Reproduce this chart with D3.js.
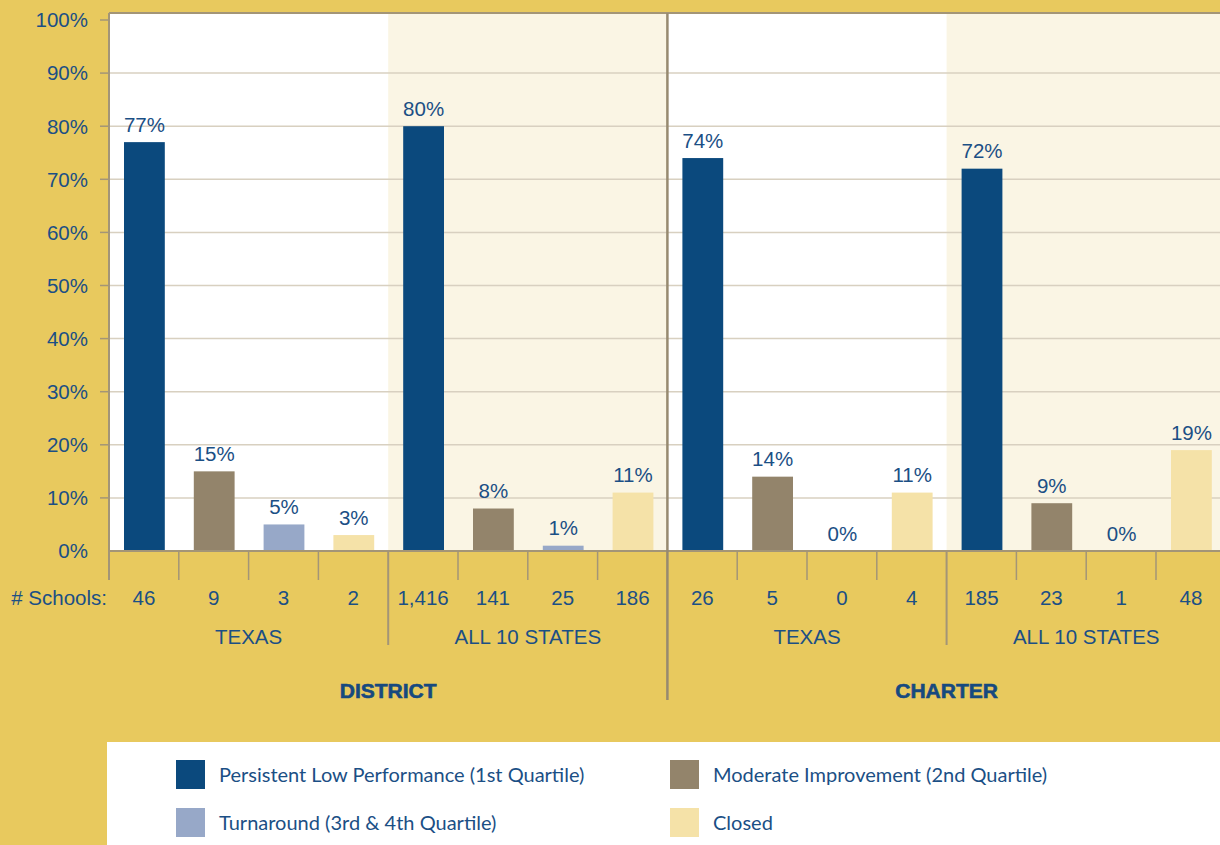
<!DOCTYPE html>
<html><head><meta charset="utf-8">
<script src="https://cdn.jsdelivr.net/npm/d3@7"></script>
<style>
html,body{margin:0;padding:0;background:#E8C95E;}
svg{display:block;}
</style></head>
<body>
<svg id="chart" width="1220" height="845"></svg>
<script>
// ---- Data ----
const sectors = ["DISTRICT", "CHARTER"];
const regions = ["TEXAS", "ALL 10 STATES"];
const seriesNames = ["Persistent Low Performance (1st Quartile)", "Moderate Improvement (2nd Quartile)", "Turnaround (3rd & 4th Quartile)", "Closed"];
const seriesColors = ["#0B497D", "#93846B", "#97A8C8", "#F5E2A8"];
// percentages by panel: District-Texas, District-All, Charter-Texas, Charter-All
const pctDistrictTexas = [77, 15, 5, 3];
const pctDistrictAll = [80, 8, 1, 11];
const pctCharterTexas = [74, 14, 0, 11];
const pctCharterAll = [72, 9, 0, 19];
const schoolsDistrictTexas = ["46", "9", "3", "2"];
const schoolsDistrictAll = ["1,416", "141", "25", "186"];
const schoolsCharterTexas = ["26", "5", "0", "4"];
const schoolsCharterAll = ["185", "23", "1", "48"];
const yTicks = [0, 10, 20, 30, 40, 50, 60, 70, 80, 90, 100];

const panels = [
  {sector: sectors[0], region: regions[0], pct: pctDistrictTexas, n: schoolsDistrictTexas},
  {sector: sectors[0], region: regions[1], pct: pctDistrictAll, n: schoolsDistrictAll},
  {sector: sectors[1], region: regions[0], pct: pctCharterTexas, n: schoolsCharterTexas},
  {sector: sectors[1], region: regions[1], pct: pctCharterAll, n: schoolsCharterAll}
];
const bars = [];
panels.forEach((p, pi) => p.pct.forEach((v, si) => bars.push({key: pi + "-" + si, pi, si, v, n: p.n[si]})));

// ---- Layout ----
const svg = d3.select("#chart");
const W = 1220, H = 845;
const x0 = 109, band = 69.8;
const plotTop = 13, plotBottom = 551;
const textBlue = "#1B4F85", lineCol = "#A39577", gridCol = "#D8D0C0";
const font = "'Liberation Sans', Arial, Helvetica, sans-serif";

const x = d3.scaleBand().domain(bars.map(d => d.key)).range([x0, x0 + band * bars.length]).paddingInner(0).paddingOuter(0);
const y = d3.scaleLinear().domain([0, 100]).range([plotBottom, 20]);
const panelX = i => x0 + i * band * 4;

svg.append("rect").attr("width", W).attr("height", H).attr("fill", "#E8C95E");

// plot background
svg.append("rect").attr("x", x0).attr("y", plotTop).attr("width", W - x0).attr("height", plotBottom - plotTop).attr("fill", "#FFFFFF");
panels.forEach((p, i) => {
  if (p.region === regions[1]) {
    svg.append("rect").attr("x", panelX(i)).attr("y", plotTop).attr("width", band * 4).attr("height", plotBottom - plotTop).attr("fill", "#FAF5E4");
  }
});

// gridlines and ticks
const yAxis = svg.append("g");
yTicks.forEach(t => {
  if (t > 0 && t < 100) {
    yAxis.append("line").attr("x1", x0).attr("x2", W).attr("y1", y(t)).attr("y2", y(t)).attr("stroke", gridCol).attr("stroke-width", 1.5);
  }
  if (t > 0) {
    yAxis.append("line").attr("x1", 100).attr("x2", x0).attr("y1", y(t)).attr("y2", y(t)).attr("stroke", lineCol).attr("stroke-width", 1.5);
  }
  yAxis.append("text").attr("x", 88).attr("y", y(t)).attr("dy", "0.36em").attr("text-anchor", "end")
    .attr("font-family", font).attr("font-size", 20.5).attr("fill", textBlue).text(t + "%");
});

// bars
svg.append("g").selectAll("rect").data(bars).join("rect")
  .attr("x", d => x(d.key) + 15).attr("width", x.bandwidth() - 29)
  .attr("y", d => y(d.v)).attr("height", d => y(0) - y(d.v))
  .attr("fill", d => seriesColors[d.si]);

// value labels
svg.append("g").selectAll("text").data(bars).join("text")
  .attr("x", d => x(d.key) + x.bandwidth() / 2 + 0.5).attr("y", d => y(d.v) - 10.5)
  .attr("text-anchor", "middle").attr("font-family", font).attr("font-size", 20.5).attr("fill", textBlue)
  .text(d => d.v + "%");

// frame
svg.append("line").attr("x1", x0).attr("x2", x0).attr("y1", plotTop).attr("y2", 580).attr("stroke", lineCol).attr("stroke-width", 2);
svg.append("line").attr("x1", x0).attr("x2", W).attr("y1", plotTop).attr("y2", plotTop).attr("stroke", lineCol).attr("stroke-width", 2);
svg.append("line").attr("x1", x0).attr("x2", W).attr("y1", plotBottom).attr("y2", plotBottom).attr("stroke", lineCol).attr("stroke-width", 2);

// separators below axis
bars.forEach(d => {
  if (d.si > 0) {
    svg.append("line").attr("x1", x(d.key)).attr("x2", x(d.key)).attr("y1", plotBottom).attr("y2", 580).attr("stroke", lineCol).attr("stroke-width", 1.5);
  }
});
[1, 3].forEach(i => {
  svg.append("line").attr("x1", panelX(i)).attr("x2", panelX(i)).attr("y1", plotBottom).attr("y2", 645).attr("stroke", lineCol).attr("stroke-width", 2);
});
svg.append("line").attr("x1", panelX(2)).attr("x2", panelX(2)).attr("y1", plotTop).attr("y2", 700).attr("stroke", "#978A70").attr("stroke-width", 2.5);

// school counts
svg.append("text").attr("x", 107).attr("y", 598).attr("dy", "0.36em").attr("text-anchor", "end")
  .attr("font-family", font).attr("font-size", 20.5).attr("fill", textBlue).text("# Schools:");
svg.append("g").selectAll("text").data(bars).join("text")
  .attr("x", d => x(d.key) + x.bandwidth() / 2).attr("y", 598).attr("dy", "0.36em")
  .attr("text-anchor", "middle").attr("font-family", font).attr("font-size", 20.5).attr("fill", textBlue)
  .text(d => d.n);

// region labels
panels.forEach((p, i) => {
  svg.append("text").attr("x", panelX(i) + band * 2).attr("y", 637).attr("dy", "0.36em")
    .attr("text-anchor", "middle").attr("font-family", font).attr("font-size", 20.5).attr("fill", textBlue).text(p.region);
});
// sector labels
sectors.forEach((s, i) => {
  svg.append("text").attr("x", panelX(i * 2) + band * 4).attr("y", 690).attr("dy", "0.36em")
    .attr("text-anchor", "middle").attr("font-family", font).attr("font-size", 21).attr("font-weight", "bold")
    .attr("stroke", "#17497F").attr("stroke-width", 0.6)
    .attr("fill", "#17497F").text(s);
});

// legend
const lg = svg.append("g");
lg.append("rect").attr("x", 107).attr("y", 742).attr("width", W - 107).attr("height", H - 742).attr("fill", "#FFFFFF");
const legendPos = [[176, 760], [670, 760], [176, 808], [670, 808]];
const legendOrder = [0, 1, 2, 3];
legendOrder.forEach((si, k) => {
  const [lx, ly] = legendPos[k];
  lg.append("rect").attr("x", lx).attr("y", ly).attr("width", 29).attr("height", 29).attr("fill", seriesColors[si]);
  lg.append("text").attr("x", lx + 43).attr("y", ly + 15).attr("dy", "0.36em")
    .attr("font-family", "Lato, 'Open Sans', sans-serif").attr("font-size", 20).attr("fill", textBlue)
    .text(seriesNames[si]);
});
</script>
</body></html>
